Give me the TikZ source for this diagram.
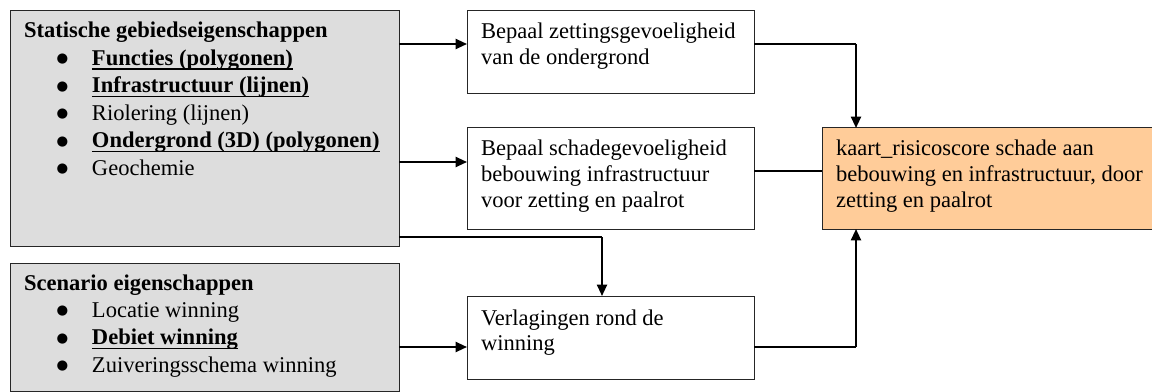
\documentclass[tikz,border=0pt]{standalone}
\usepackage{fontspec}
\setmainfont{Liberation Serif}
\newfontfamily\symfont{DejaVu Sans}
\usetikzlibrary{arrows.meta}
\definecolor{boxgray}{HTML}{DDDDDD}
\definecolor{boxorange}{HTML}{FFCC99}
% top aligned text inside a box: width, height, first baseline, text
\newcommand{\boxtext}[4]{\parbox[c][#2][t]{#1}{\raggedright\rule{0pt}{#3}#4}}
\newcommand{\bul}[1]{\\\hspace*{24.5pt}\makebox[26.5pt][l]{\raisebox{1.9pt}{\symfont\fontsize{10}{10}\selectfont ●}}#1}
\newcommand{\bu}[1]{\setbox0\hbox{\bfseries #1}\rlap{\rule[-3.4pt]{\wd0}{1.2pt}}\box0}
\begin{document}
\begin{tikzpicture}[x=0.75pt, y=-0.75pt, font=\fontsize{16.9}{19.4}\selectfont]
        \tikzset{box/.style={draw=black!85, line width=0.75pt, inner xsep=10.5pt, inner ysep=0pt, outer sep=0pt, anchor=north west},
                 listbox/.style={box, fill=boxgray, font=\fontsize{16.9}{20.6}\selectfont},
                 arr/.style={-{Triangle[length=8.5pt,width=7.5pt]}, line width=1.5pt},
                 link/.style={line width=0.9pt}}
        \useasboundingbox (0,0) rectangle (1152,392);
        % input boxes
        \node[listbox] (stat) at (10,11) {\boxtext{270.75pt}{176.25pt}{20.25pt}{\textbf{Statische gebiedseigenschappen}%
            \bul{\bu{Functies (polygonen)}}\bul{\bu{Infrastructuur (lijnen)}}\bul{Riolering (lijnen)}%
            \bul{\bu{Ondergrond (3D) (polygonen)}}\bul{Geochemie}}};
        \node[listbox] (scen) at (10,263) {\boxtext{270.75pt}{96pt}{20.25pt}{\textbf{Scenario eigenschappen}%
            \bul{Locatie winning}\bul{\bu{Debiet winning}}\bul{Zuiveringsschema winning}}};
        % steps
        \node[box] (zetting) at (467,11) {\boxtext{194.25pt}{62.25pt}{21pt}{Bepaal zettingsgevoeligheid\\van de ondergrond}};
        \node[box] (schade) at (467,128) {\boxtext{194.25pt}{75.75pt}{20.5pt}{Bepaal schadegevoeligheid\\bebouwing infrastructuur\\voor zetting en paalrot}};
        \node[box] (verlaging) at (467,296) {\boxtext{194.25pt}{62.25pt}{21.75pt}{Verlagingen rond de\\winning}};
        \node[box, fill=boxorange] (kaart) at (822,128) {\boxtext{237.75pt}{75.75pt}{21pt}{kaart\_risicoscore schade aan\\bebouwing en infrastructuur, door\\zetting en paalrot}};
        % corners of the elbow lines
        \coordinate (cz) at (856,44);
        \coordinate (cv) at (602,237);
        \coordinate (cw) at (856,347);
        \draw[arr] (stat.east |- cz) -- (zetting.west |- cz);
        \draw[arr] (stat.east |- 0,162) -- (schade.west |- 0,162);
        \draw[link] (stat.east |- cv) -- (cv);
        \draw[arr] (cv) -- (cv |- verlaging.north);
        \draw[arr] (scen.east |- cw) -- (verlaging.west |- cw);
        \draw[link] (zetting.east |- cz) -- (cz);
        \draw[arr] (cz) -- (cz |- kaart.north);
        \draw[link] (schade.east |- 0,171) -- (kaart.west |- 0,171);
        \draw[link] (verlaging.east |- cw) -- (cw);
        \draw[arr] (cw) -- (cw |- kaart.south);
    \end{tikzpicture}
\end{document}
